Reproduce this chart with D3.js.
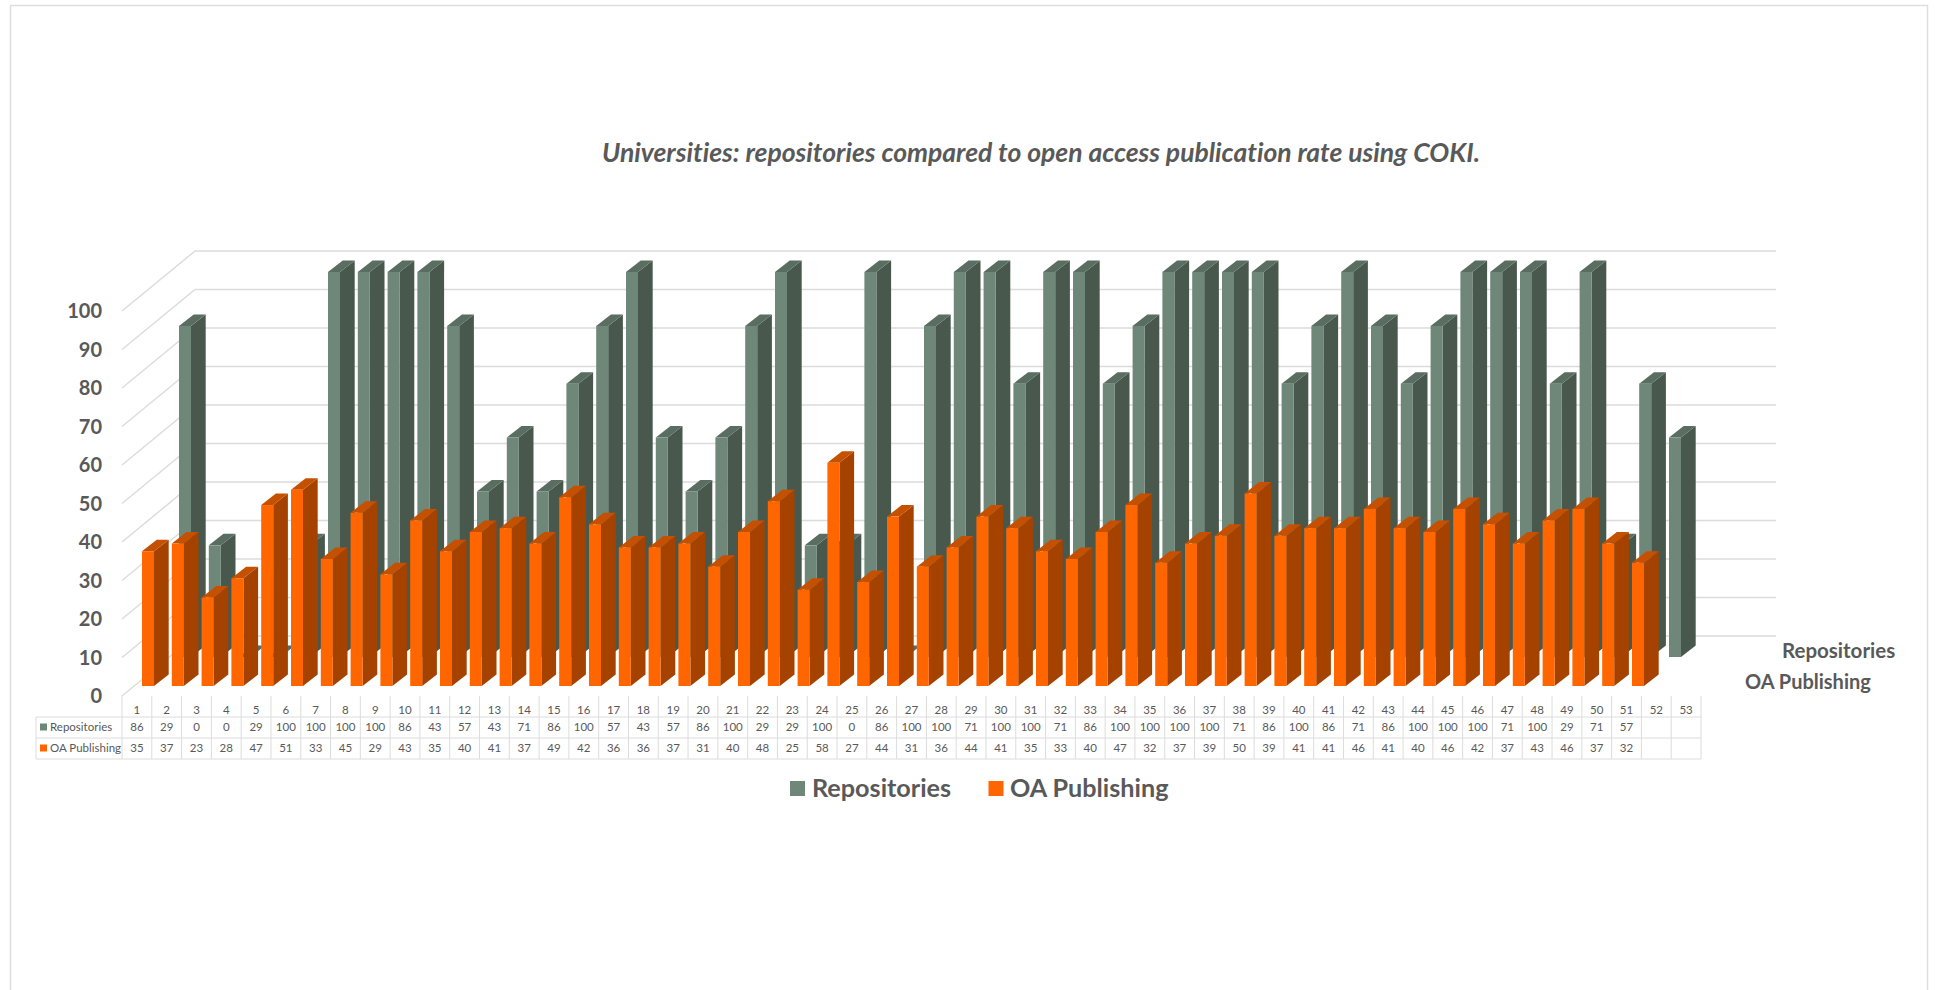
<!DOCTYPE html>
<html>
<head>
<meta charset="utf-8">
<script src="https://cdnjs.cloudflare.com/ajax/libs/d3/7.8.5/d3.min.js"></script>
<style>
html,body{margin:0;padding:0;background:#fff;}
svg{display:block;}
text{font-family:Lato,"Open Sans",sans-serif;font-variant-ligatures:none;}
</style>
</head>
<body>
<svg id="chart" width="1935" height="990"></svg>
<script>
const columns = d3.range(1, 54);
const repositories = [86,29,0,0,29,100,100,100,100,86,43,57,43,71,86,100,57,43,57,86,100,29,29,100,0,86,100,100,71,100,100,71,86,100,100,100,100,71,86,100,86,71,86,100,100,100,71,100,29,71,57];
const oaPublishing = [35,37,23,28,47,51,33,45,29,43,35,40,41,37,49,42,36,36,37,31,40,48,25,58,27,44,31,36,44,41,35,33,40,47,32,37,39,50,39,41,41,46,41,40,46,42,37,43,46,37,32];
const yTicks = d3.range(0, 101, 10);
const titleText = "Universities: repositories compared to open access publication rate using COKI.";
const seriesNames = ["Repositories", "OA Publishing"];

const svg = d3.select("#chart");
const GRID = "#dcdcdc", TEXT = "#595959";

// Chart area frame
svg.append("path").attr("d", "M10.5,990V5.5H1927.5V990").attr("fill", "none").attr("stroke", "#dedede").attr("stroke-width", 1.5);

svg.append("text").attr("x", 1041).attr("y", 162).attr("text-anchor", "middle")
  .attr("font-size", 26.5).attr("font-weight", 700).attr("font-style", "italic").attr("fill", "#595959").text(titleText);

// Projection: value scales for the axis edge, the back wall and the two bar rows
const height = d3.scaleLinear().domain([0, 100]).range([0, 385]);
const wallY = d3.scaleLinear().domain([0, 100]).range([636, 251]);
const axisY = d3.scaleLinear().domain([0, 100]).range([696, 311]);
const col = d3.scaleLinear().domain([0, 50]);
const frontX = col.copy().range([142, 1632]);
const backX = col.copy().range([179, 1669]);
const wall = {left: 195, right: 1776, edge: 122};
const bar = {w: 12, dx: 14.7, dy: 11.5};

const grid = svg.append("g").attr("fill", "none").attr("stroke", GRID).attr("stroke-width", 1.5);
yTicks.forEach(t => {
  grid.append("path").attr("d", `M${wall.edge},${axisY(t)}L${wall.left},${wallY(t)}L${wall.right},${wallY(t)}`);
});

svg.append("g").selectAll("text").data(yTicks).join("text")
  .attr("x", 102).attr("y", d => axisY(d)).attr("dy", "0.35em").attr("text-anchor", "end")
  .attr("font-size", 20).attr("font-weight", 700).attr("fill", TEXT).text(d => d);

// One row of extruded bars: front face, side face, top face
function drawRow(values, x, baseY, colours) {
  const g = svg.append("g");
  values.forEach((v, i) => {
    const x0 = x(i), x1 = x0 + bar.w, top = baseY - height(v);
    const {dx, dy} = bar;
    g.append("path").attr("fill", colours.side).attr("d",
      `M${x1},${baseY}L${x1 + dx},${baseY - dy}L${x1 + dx},${top - dy}L${x1},${top}Z`);
    g.append("path").attr("fill", colours.top).attr("d",
      `M${x0},${top}L${x1},${top}L${x1 + dx},${top - dy}L${x0 + dx},${top - dy}Z`);
    g.append("rect").attr("x", x0).attr("y", top).attr("width", bar.w).attr("height", baseY - top)
      .attr("fill", colours.front);
  });
}
const green = {front: "#6e8778", side: "#48584d", top: "#596d61"};
const orange = {front: "#ff6600", side: "#a64200", top: "#c45000"};
drawRow(repositories, backX, 657, green);
drawRow(oaPublishing, frontX, 686, orange);

// Series names along the depth axis
svg.append("text").attr("x", 1782).attr("y", 658).attr("font-size", 20.5).attr("font-weight", 700).attr("fill", TEXT).text(seriesNames[0]);
svg.append("text").attr("x", 1745).attr("y", 689).attr("font-size", 20).attr("font-weight", 700).attr("fill", TEXT).text(seriesNames[1]);

// Data table below the axis
const tableCol = d3.scaleLinear().domain([0, 53]).range([122, 1701]);
const rowY = [696, 717, 738, 759];
const table = svg.append("g").attr("stroke", GRID).attr("stroke-width", 1);
columns.concat([54]).forEach((c, i) => {
  table.append("line").attr("x1", tableCol(i)).attr("x2", tableCol(i)).attr("y1", rowY[0]).attr("y2", rowY[3]);
});
table.append("line").attr("x1", 36).attr("x2", 36).attr("y1", rowY[1]).attr("y2", rowY[3]);
rowY.slice(1).forEach(y => table.append("line").attr("x1", 36).attr("x2", 1701).attr("y1", y).attr("y2", y));

const cellText = svg.append("g").attr("font-size", 11.5).attr("fill", TEXT).attr("text-anchor", "middle");
columns.forEach((c, i) => {
  const cx = (tableCol(i) + tableCol(i + 1)) / 2;
  cellText.append("text").attr("x", cx).attr("y", 710).attr("dy", "0.35em").text(c);
  if (i < repositories.length) {
    cellText.append("text").attr("x", cx).attr("y", 727).attr("dy", "0.35em").text(repositories[i]);
    cellText.append("text").attr("x", cx).attr("y", 748).attr("dy", "0.35em").text(oaPublishing[i]);
  }
});
[[seriesNames[0], green.front, 727], [seriesNames[1], orange.front, 748]].forEach(([name, c, y]) => {
  svg.append("rect").attr("x", 40).attr("y", y - 3.5).attr("width", 7).attr("height", 7).attr("fill", c);
  svg.append("text").attr("x", 50).attr("y", y).attr("dy", "0.35em").attr("font-size", 11.5).attr("fill", TEXT).text(name);
});

// Legend
[[seriesNames[0], green.front, 790, 812], [seriesNames[1], orange.front, 988.5, 1010]].forEach(([name, c, sx, tx]) => {
  svg.append("rect").attr("x", sx).attr("y", 781).attr("width", 15).attr("height", 15).attr("fill", c);
  svg.append("text").attr("x", tx).attr("y", 797).attr("font-size", 25.2).attr("font-weight", 700).attr("fill", TEXT).text(name);
});
</script>
</body>
</html>
